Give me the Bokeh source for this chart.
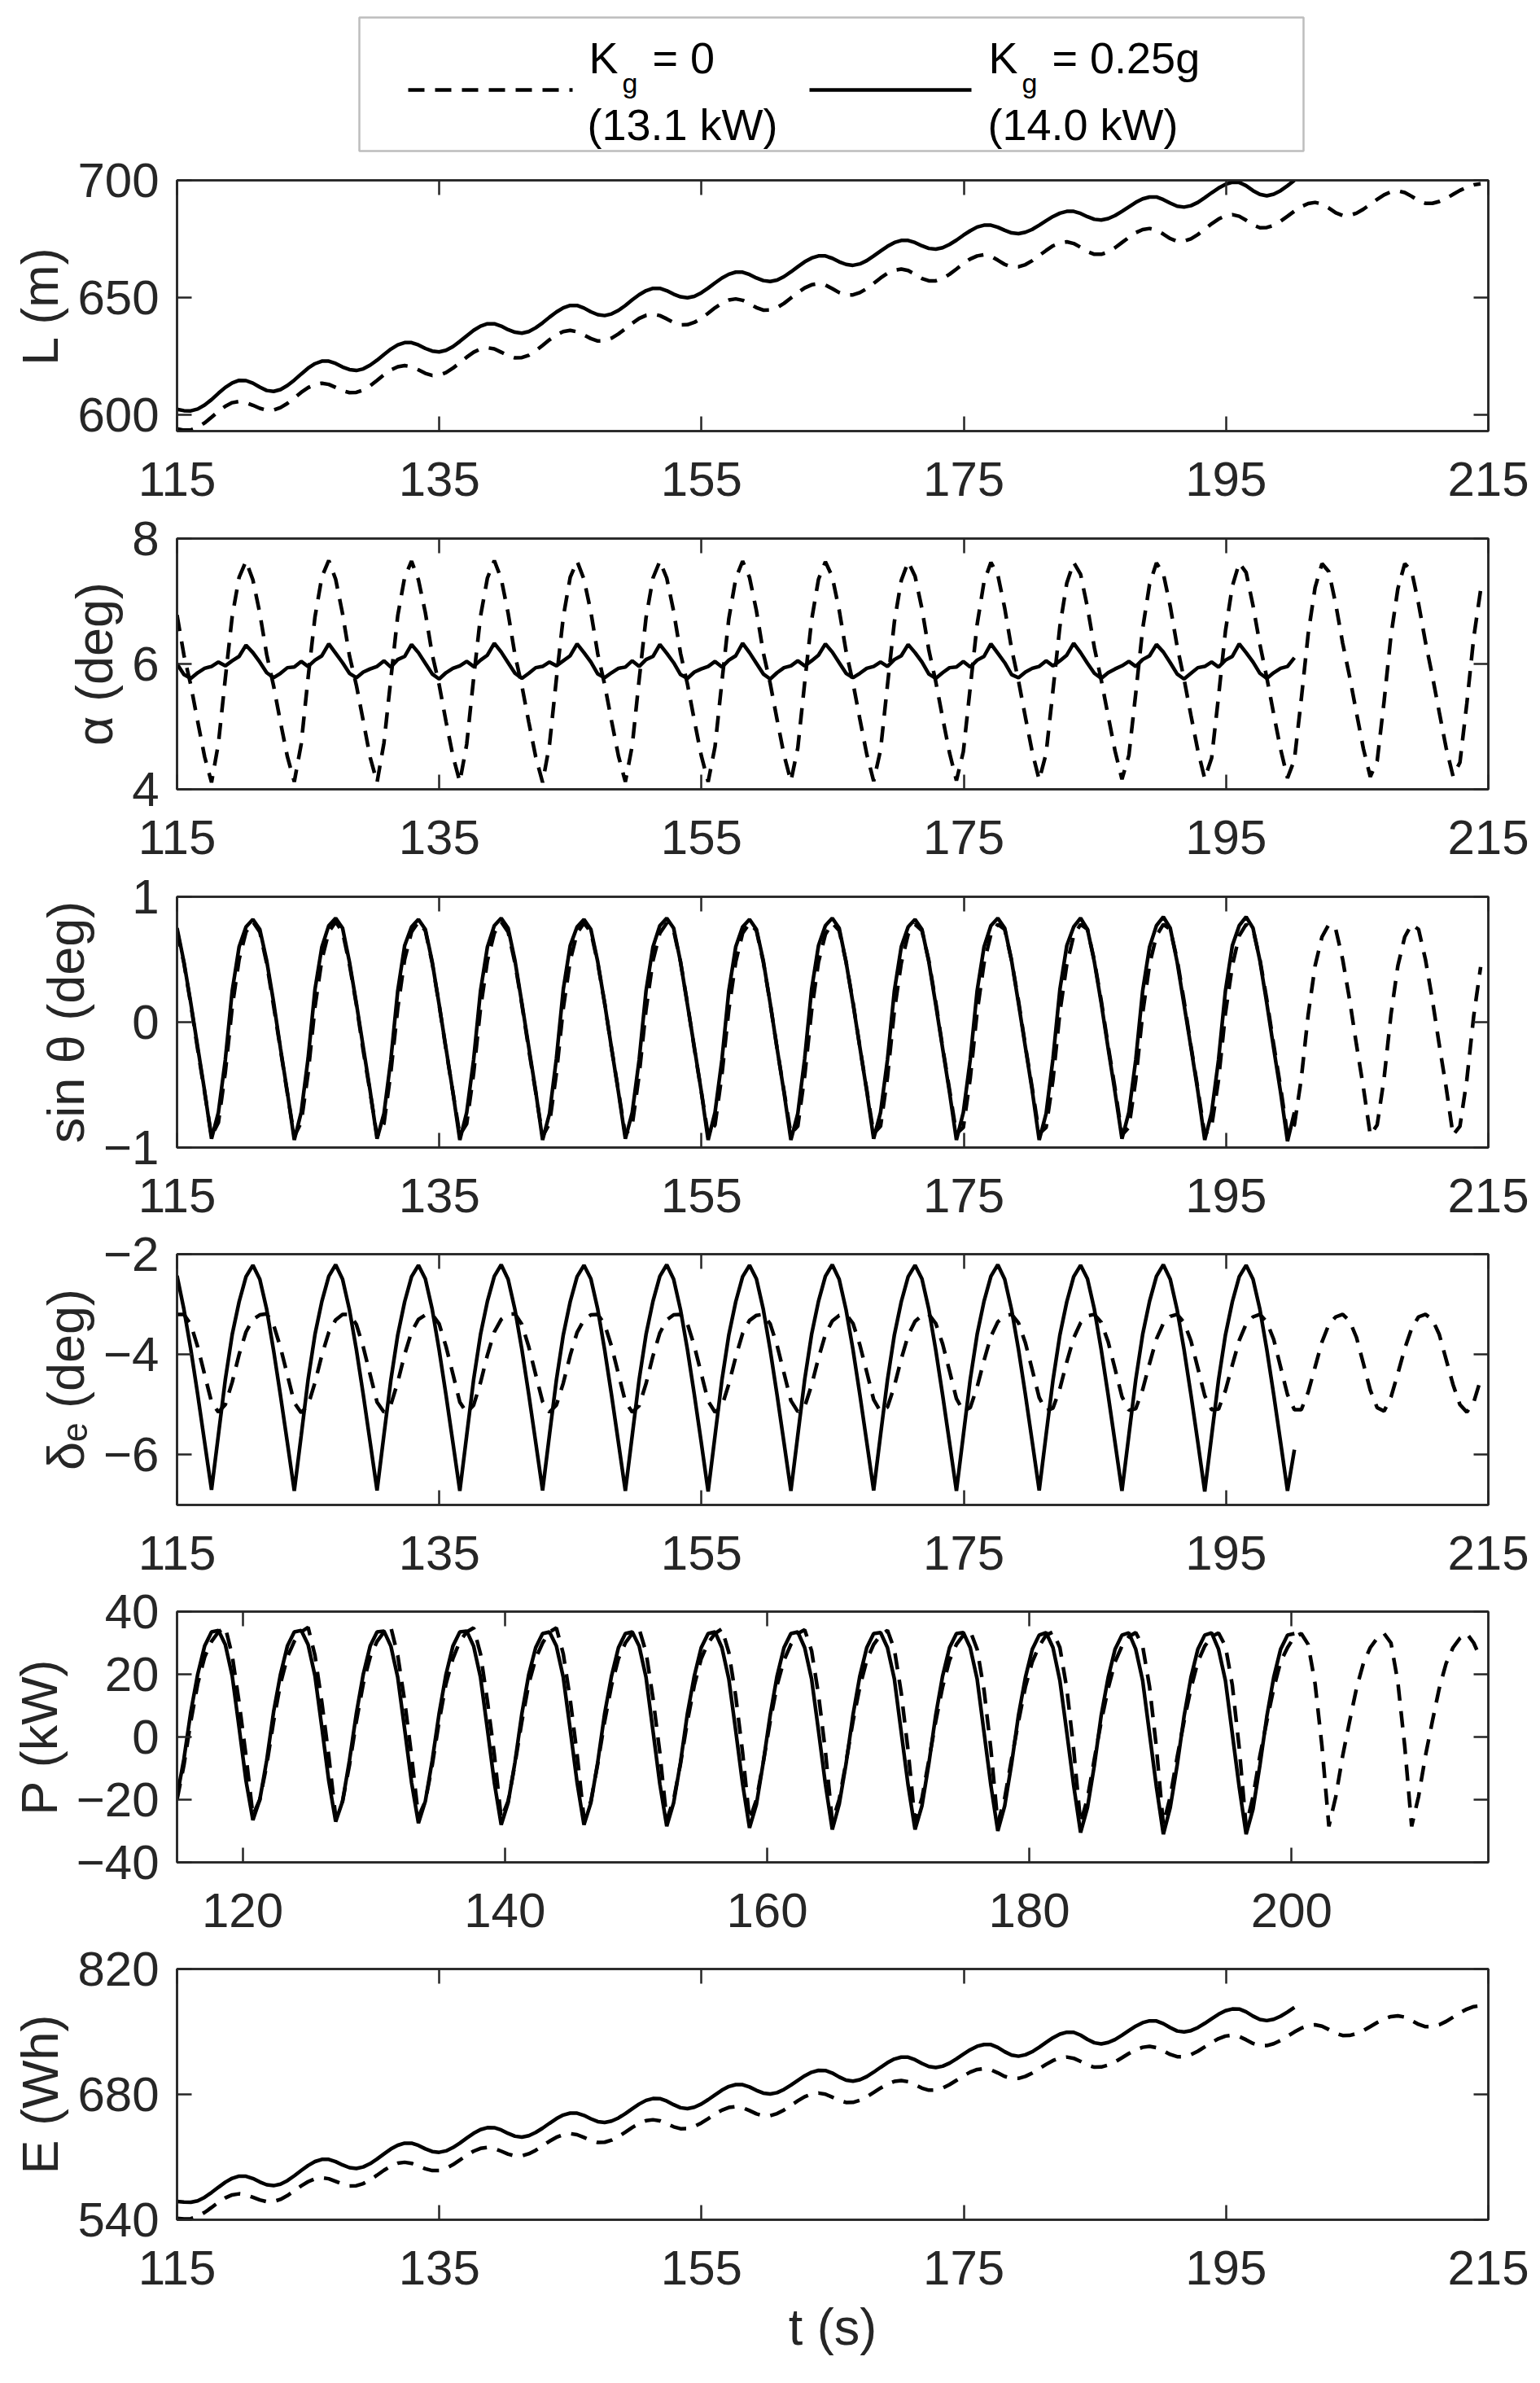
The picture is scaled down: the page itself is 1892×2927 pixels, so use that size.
from bokeh.plotting import figure
from bokeh.models import Range1d, LinearAxis, FixedTicker, CustomJSTickFormatter, BoxAnnotation
from bokeh.layouts import column
from bokeh.embed import file_html
from bokeh.resources import INLINE
from bokeh.core.properties import value

# ---------------------------------------------------------------- data
# Values, one reading every TIME_STEP seconds
# (12 readings per ~6.31 s oscillation cycle), starting at TIME_START.
TIME_START = 115.0
TIME_STEP = 0.526

X_TICKS = [115, 135, 155, 175, 195, 215]
X_TICKS_P = [120, 140, 160, 180, 200]

# ---- L (m)
L_KG0 = [
    594.2, 593.6, 593.7, 594.8, 596.7, 599.1, 601.6, 603.8, 605.3, 605.8, 605.3, 604.2,
    602.9, 602.1, 602.2, 603.2, 605.0, 607.3, 609.7, 611.7, 613.1, 613.6, 613.1, 611.8,
    610.4, 609.6, 609.7, 610.7, 612.5, 614.8, 617.2, 619.2, 620.6, 621.1, 620.6, 619.3,
    617.8, 616.9, 617.0, 618.1, 620.0, 622.3, 624.7, 626.8, 628.2, 628.7, 628.2, 626.8,
    625.3, 624.4, 624.5, 625.5, 627.4, 629.7, 632.1, 634.2, 635.6, 636.1, 635.5, 634.1,
    632.6, 631.6, 631.7, 632.8, 634.6, 636.8, 639.1, 641.2, 642.5, 643.0, 642.4, 641.0,
    639.4, 638.4, 638.5, 639.5, 641.2, 643.4, 645.7, 647.7, 649.0, 649.5, 648.9, 647.4,
    645.8, 644.7, 644.8, 645.8, 647.6, 649.9, 652.2, 654.2, 655.5, 656.0, 655.4, 653.9,
    652.2, 651.1, 651.2, 652.2, 653.9, 656.1, 658.4, 660.4, 661.7, 662.2, 661.6, 660.0,
    658.2, 657.2, 657.2, 658.2, 660.0, 662.2, 664.5, 666.5, 667.8, 668.3, 667.7, 666.0,
    664.2, 663.1, 663.2, 664.1, 665.8, 668.0, 670.1, 672.1, 673.3, 673.8, 673.1, 671.5,
    669.6, 668.5, 668.5, 669.5, 671.3, 673.5, 675.7, 677.7, 679.0, 679.5, 678.8, 677.1,
    675.2, 674.0, 674.1, 675.1, 676.9, 679.2, 681.5, 683.5, 684.9, 685.4, 684.7, 683.0,
    681.0, 679.8, 679.9, 680.8, 682.6, 684.7, 686.9, 688.8, 690.1, 690.6, 689.9, 688.2,
    686.2, 685.0, 685.1, 686.0, 687.7, 689.8, 691.9, 693.8, 695.1, 695.5, 694.8, 693.2,
    691.3, 690.2, 690.2, 691.0, 692.3, 694.0, 695.7, 697.1, 698.1, 698.5,
]
L_KG025 = [
    602.5, 601.9, 601.8, 602.6, 604.3, 606.6, 609.3, 611.8, 613.7, 614.8, 614.7, 613.6,
    611.9, 610.5, 610.1, 610.9, 612.6, 614.9, 617.5, 620.0, 621.9, 623.0, 623.0, 622.0,
    620.5, 619.4, 619.0, 619.7, 621.3, 623.4, 625.8, 628.1, 629.9, 630.9, 630.9, 629.9,
    628.4, 627.3, 626.9, 627.6, 629.2, 631.4, 633.8, 636.1, 637.9, 638.9, 638.9, 637.9,
    636.4, 635.3, 634.9, 635.6, 637.2, 639.3, 641.7, 643.9, 645.7, 646.7, 646.7, 645.6,
    644.0, 642.8, 642.4, 643.1, 644.6, 646.7, 649.1, 651.3, 653.0, 654.0, 654.0, 653.0,
    651.5, 650.4, 650.0, 650.6, 652.1, 654.1, 656.3, 658.4, 660.0, 660.9, 660.9, 659.9,
    658.4, 657.3, 656.9, 657.5, 659.0, 661.0, 663.2, 665.3, 666.9, 667.8, 667.8, 666.8,
    665.3, 664.2, 663.8, 664.4, 665.8, 667.8, 669.9, 671.9, 673.5, 674.4, 674.4, 673.5,
    672.1, 671.0, 670.7, 671.3, 672.7, 674.5, 676.6, 678.5, 680.1, 680.9, 680.9, 680.0,
    678.7, 677.6, 677.3, 677.9, 679.1, 680.9, 682.8, 684.6, 686.0, 686.8, 686.8, 685.9,
    684.5, 683.4, 683.1, 683.7, 685.0, 686.8, 688.7, 690.6, 692.1, 692.9, 692.9, 691.8,
    690.3, 689.0, 688.6, 689.2, 690.6, 692.6, 694.7, 696.7, 698.3, 699.2, 699.1, 697.7,
    695.6, 694.0, 693.4, 694.1, 695.6, 697.7, 700.0,
]
L_TICKS = [600, 650, 700]

# ---- alpha (deg)
ALPHA_KG0 = [
    6.78, 6.14, 5.66, 5.08, 4.52, 4.11, 4.73, 5.77, 6.76, 7.38, 7.64, 7.34,
    6.81, 6.15, 5.65, 5.07, 4.52, 4.12, 4.72, 5.78, 6.75, 7.39, 7.65, 7.35,
    6.80, 6.13, 5.66, 5.09, 4.51, 4.11, 4.74, 5.76, 6.77, 7.38, 7.64, 7.34,
    6.82, 6.15, 5.67, 5.08, 4.53, 4.12, 4.72, 5.77, 6.76, 7.37, 7.65, 7.36,
    6.81, 6.14, 5.65, 5.07, 4.52, 4.11, 4.71, 5.76, 6.75, 7.38, 7.64, 7.35,
    6.83, 6.16, 5.67, 5.09, 4.53, 4.12, 4.70, 5.75, 6.74, 7.37, 7.64, 7.37,
    6.84, 6.17, 5.68, 5.10, 4.54, 4.12, 4.68, 5.72, 6.72, 7.36, 7.64, 7.38,
    6.85, 6.18, 5.69, 5.11, 4.55, 4.13, 4.66, 5.70, 6.70, 7.35, 7.63, 7.39,
    6.86, 6.20, 5.70, 5.12, 4.56, 4.13, 4.63, 5.66, 6.67, 7.33, 7.63, 7.40,
    6.88, 6.22, 5.72, 5.14, 4.58, 4.14, 4.60, 5.62, 6.63, 7.31, 7.62, 7.42,
    6.89, 6.24, 5.73, 5.15, 4.59, 4.15, 4.57, 5.58, 6.60, 7.29, 7.62, 7.43,
    6.90, 6.26, 5.74, 5.17, 4.61, 4.16, 4.54, 5.53, 6.56, 7.27, 7.61, 7.44,
    6.92, 6.28, 5.76, 5.18, 4.62, 4.17, 4.50, 5.48, 6.52, 7.24, 7.61, 7.46,
    6.93, 6.31, 5.78, 5.20, 4.64, 4.18, 4.47, 5.44, 6.48, 7.22, 7.60, 7.47,
    6.95, 6.33, 5.80, 5.22, 4.65, 4.20, 4.45, 5.40, 6.45, 7.20, 7.60, 7.48,
    6.96, 6.35, 5.81, 5.23, 4.66, 4.21, 4.43, 5.37, 6.42, 7.18,
]
ALPHA_KG025 = [
    6.00, 5.83, 5.77, 5.86, 5.93, 5.96, 6.03, 5.97, 6.05, 6.12, 6.30, 6.18,
    6.03, 5.86, 5.78, 5.85, 5.94, 5.95, 6.04, 5.96, 6.06, 6.13, 6.32, 6.17,
    6.02, 5.85, 5.78, 5.87, 5.92, 5.96, 6.05, 5.95, 6.07, 6.12, 6.31, 6.18,
    6.01, 5.84, 5.76, 5.86, 5.93, 5.97, 6.04, 5.96, 6.06, 6.14, 6.33, 6.19,
    6.02, 5.85, 5.77, 5.85, 5.94, 5.96, 6.03, 5.97, 6.05, 6.13, 6.32, 6.18,
    6.03, 5.84, 5.78, 5.86, 5.93, 5.95, 6.05, 5.96, 6.07, 6.12, 6.31, 6.17,
    6.02, 5.83, 5.77, 5.87, 5.92, 5.96, 6.04, 5.95, 6.06, 6.13, 6.33, 6.18,
    6.01, 5.84, 5.76, 5.86, 5.94, 5.97, 6.05, 5.97, 6.05, 6.14, 6.32, 6.19,
    6.02, 5.85, 5.78, 5.85, 5.93, 5.96, 6.03, 5.96, 6.07, 6.13, 6.31, 6.18,
    6.03, 5.84, 5.77, 5.86, 5.94, 5.95, 6.04, 5.95, 6.06, 6.12, 6.32, 6.17,
    6.02, 5.83, 5.78, 5.87, 5.93, 5.96, 6.05, 5.97, 6.05, 6.14, 6.33, 6.18,
    6.01, 5.85, 5.77, 5.86, 5.92, 5.97, 6.04, 5.96, 6.07, 6.13, 6.31, 6.19,
    6.02, 5.84, 5.76, 5.85, 5.94, 5.96, 6.03, 5.95, 6.06, 6.12, 6.32, 6.18,
    6.03, 5.85, 5.77, 5.86, 5.93, 5.96, 6.10,
]
ALPHA_TICKS = [4, 6, 8]

# ---- sin(theta)
SIN_KG0 = [
    0.73, 0.47, 0.14, -0.22, -0.56, -0.91, -0.80, -0.40, 0.12, 0.50, 0.72, 0.80,
    0.72, 0.47, 0.13, -0.22, -0.57, -0.91, -0.80, -0.41, 0.12, 0.50, 0.72, 0.80,
    0.72, 0.46, 0.14, -0.23, -0.56, -0.91, -0.81, -0.40, 0.11, 0.50, 0.72, 0.80,
    0.73, 0.47, 0.14, -0.22, -0.56, -0.90, -0.81, -0.41, 0.11, 0.49, 0.71, 0.80,
    0.72, 0.47, 0.14, -0.22, -0.56, -0.91, -0.81, -0.41, 0.11, 0.49, 0.71, 0.79,
    0.72, 0.47, 0.15, -0.21, -0.55, -0.90, -0.82, -0.42, 0.10, 0.49, 0.71, 0.79,
    0.73, 0.48, 0.15, -0.21, -0.55, -0.90, -0.82, -0.42, 0.10, 0.48, 0.71, 0.79,
    0.73, 0.48, 0.15, -0.21, -0.55, -0.89, -0.83, -0.43, 0.09, 0.48, 0.70, 0.79,
    0.73, 0.48, 0.16, -0.20, -0.54, -0.89, -0.83, -0.44, 0.09, 0.47, 0.70, 0.78,
    0.73, 0.49, 0.16, -0.20, -0.54, -0.89, -0.84, -0.45, 0.08, 0.47, 0.70, 0.78,
    0.74, 0.49, 0.17, -0.19, -0.53, -0.89, -0.84, -0.46, 0.08, 0.46, 0.69, 0.78,
    0.74, 0.49, 0.17, -0.19, -0.53, -0.90, -0.84, -0.46, 0.07, 0.46, 0.69, 0.78,
    0.74, 0.50, 0.17, -0.19, -0.53, -0.90, -0.83, -0.46, 0.07, 0.45, 0.69, 0.78,
    0.74, 0.50, 0.18, -0.18, -0.52, -0.90, -0.82, -0.45, 0.06, 0.45, 0.68, 0.78,
    0.74, 0.50, 0.18, -0.18, -0.52, -0.90, -0.82, -0.45, 0.06, 0.45, 0.68, 0.78,
    0.74, 0.50, 0.18, -0.18, -0.52, -0.90, -0.83, -0.46, 0.05, 0.44,
]
SIN_KG025 = [
    0.75, 0.48, 0.15, -0.20, -0.55, -0.93, -0.72, -0.30, 0.25, 0.60, 0.76, 0.82,
    0.74, 0.49, 0.16, -0.21, -0.56, -0.94, -0.72, -0.29, 0.26, 0.60, 0.77, 0.83,
    0.75, 0.48, 0.15, -0.20, -0.55, -0.93, -0.73, -0.30, 0.25, 0.61, 0.76, 0.82,
    0.74, 0.48, 0.14, -0.21, -0.56, -0.94, -0.72, -0.30, 0.25, 0.60, 0.77, 0.83,
    0.75, 0.49, 0.15, -0.20, -0.55, -0.94, -0.73, -0.29, 0.26, 0.61, 0.76, 0.82,
    0.74, 0.48, 0.15, -0.21, -0.56, -0.93, -0.72, -0.30, 0.25, 0.60, 0.77, 0.83,
    0.75, 0.48, 0.14, -0.20, -0.55, -0.94, -0.72, -0.30, 0.25, 0.60, 0.76, 0.82,
    0.74, 0.49, 0.15, -0.21, -0.56, -0.94, -0.73, -0.29, 0.26, 0.61, 0.77, 0.83,
    0.75, 0.48, 0.15, -0.20, -0.55, -0.93, -0.72, -0.30, 0.25, 0.60, 0.76, 0.82,
    0.74, 0.48, 0.14, -0.21, -0.56, -0.94, -0.72, -0.30, 0.25, 0.60, 0.77, 0.83,
    0.75, 0.49, 0.15, -0.20, -0.55, -0.94, -0.73, -0.29, 0.26, 0.61, 0.76, 0.83,
    0.74, 0.48, 0.15, -0.21, -0.56, -0.93, -0.72, -0.30, 0.25, 0.60, 0.77, 0.84,
    0.75, 0.48, 0.14, -0.20, -0.55, -0.94, -0.72, -0.30, 0.25, 0.61, 0.77, 0.84,
    0.75, 0.49, 0.15, -0.21, -0.56, -0.95, -0.72,
]
SIN_TICKS = [-1, 0, 1]

# ---- delta_e (deg)
DELTA_KG0 = [
    -3.20, -3.20, -3.40, -3.85, -4.40, -4.95, -5.15, -5.00, -4.55, -4.00, -3.55, -3.30,
    -3.21, -3.19, -3.41, -3.86, -4.41, -4.96, -5.16, -5.01, -4.56, -4.01, -3.56, -3.31,
    -3.20, -3.20, -3.40, -3.85, -4.40, -4.95, -5.15, -5.00, -4.55, -4.00, -3.55, -3.30,
    -3.21, -3.20, -3.39, -3.84, -4.39, -4.95, -5.16, -5.01, -4.56, -4.01, -3.55, -3.30,
    -3.20, -3.19, -3.40, -3.85, -4.40, -4.94, -5.15, -5.01, -4.57, -4.02, -3.56, -3.31,
    -3.21, -3.20, -3.40, -3.84, -4.39, -4.94, -5.15, -5.02, -4.58, -4.03, -3.57, -3.31,
    -3.21, -3.20, -3.39, -3.83, -4.38, -4.93, -5.15, -5.03, -4.59, -4.05, -3.58, -3.32,
    -3.22, -3.20, -3.39, -3.82, -4.37, -4.92, -5.14, -5.04, -4.61, -4.07, -3.60, -3.33,
    -3.22, -3.20, -3.38, -3.81, -4.35, -4.90, -5.14, -5.05, -4.63, -4.09, -3.62, -3.34,
    -3.22, -3.20, -3.38, -3.79, -4.33, -4.88, -5.13, -5.06, -4.65, -4.12, -3.64, -3.35,
    -3.23, -3.20, -3.37, -3.77, -4.31, -4.86, -5.12, -5.07, -4.68, -4.15, -3.67, -3.37,
    -3.23, -3.20, -3.36, -3.75, -4.29, -4.84, -5.11, -5.08, -4.70, -4.18, -3.69, -3.38,
    -3.24, -3.20, -3.36, -3.73, -4.27, -4.82, -5.10, -5.09, -4.72, -4.21, -3.72, -3.39,
    -3.25, -3.20, -3.35, -3.70, -4.25, -4.80, -5.10, -5.10, -4.75, -4.25, -3.75, -3.40,
    -3.25, -3.20, -3.33, -3.66, -4.18, -4.71, -5.06, -5.13, -4.85, -4.38, -3.88, -3.48,
    -3.25, -3.20, -3.30, -3.60, -4.10, -4.60, -5.00, -5.15, -4.95, -4.50,
]
DELTA_KG025 = [
    -2.43, -3.10, -3.90, -4.80, -5.75, -6.70, -5.60, -4.50, -3.60, -2.95, -2.45, -2.22,
    -2.50, -3.10, -3.92, -4.82, -5.76, -6.72, -5.62, -4.50, -3.60, -2.94, -2.44, -2.21,
    -2.50, -3.11, -3.90, -4.80, -5.75, -6.71, -5.60, -4.51, -3.61, -2.95, -2.45, -2.22,
    -2.49, -3.10, -3.91, -4.81, -5.76, -6.72, -5.61, -4.50, -3.60, -2.94, -2.44, -2.21,
    -2.50, -3.11, -3.90, -4.80, -5.75, -6.71, -5.60, -4.51, -3.61, -2.95, -2.45, -2.22,
    -2.49, -3.10, -3.91, -4.81, -5.76, -6.72, -5.61, -4.50, -3.60, -2.94, -2.44, -2.21,
    -2.50, -3.11, -3.90, -4.80, -5.75, -6.73, -5.62, -4.51, -3.61, -2.95, -2.45, -2.22,
    -2.49, -3.10, -3.91, -4.81, -5.76, -6.72, -5.61, -4.50, -3.60, -2.94, -2.44, -2.21,
    -2.50, -3.11, -3.90, -4.80, -5.75, -6.71, -5.60, -4.51, -3.61, -2.95, -2.45, -2.22,
    -2.49, -3.10, -3.91, -4.81, -5.76, -6.72, -5.61, -4.50, -3.60, -2.94, -2.44, -2.21,
    -2.50, -3.11, -3.90, -4.80, -5.75, -6.71, -5.60, -4.51, -3.61, -2.95, -2.45, -2.22,
    -2.49, -3.10, -3.91, -4.81, -5.76, -6.72, -5.61, -4.50, -3.60, -2.94, -2.44, -2.21,
    -2.50, -3.11, -3.90, -4.80, -5.75, -6.73, -5.62, -4.51, -3.61, -2.95, -2.45, -2.22,
    -2.50, -3.10, -3.90, -4.80, -5.75, -6.72, -5.90,
]
DELTA_TICKS = [-6, -4, -2]

# ---- P (kW)
P_KG0 = [
    -20.0, -9.0, 5.0, 17.0, 25.5, 30.5, 33.5, 35.0, 26.0, 11.0, -6.0, -25.0,
    -20.0, -9.0, 5.0, 17.0, 25.5, 30.5, 33.5, 35.0, 26.0, 11.0, -6.0, -25.5,
    -20.5, -9.0, 5.0, 17.0, 25.5, 30.5, 33.5, 35.0, 26.0, 11.5, -6.0, -25.5,
    -20.5, -9.0, 5.0, 17.0, 25.0, 30.5, 33.5, 34.8, 26.5, 11.5, -5.5, -26.0,
    -20.5, -8.5, 5.0, 17.0, 25.0, 30.0, 33.5, 34.8, 26.5, 12.0, -5.5, -26.0,
    -20.5, -8.5, 5.0, 16.5, 25.0, 30.0, 33.0, 34.5, 27.0, 12.5, -5.0, -26.5,
    -20.0, -8.5, 5.0, 16.5, 25.0, 30.0, 33.0, 34.5, 27.0, 13.0, -5.0, -26.5,
    -20.0, -8.0, 5.0, 16.5, 24.5, 29.5, 33.0, 34.2, 27.5, 13.5, -4.5, -27.0,
    -20.0, -8.0, 5.0, 16.0, 24.5, 29.5, 32.5, 34.0, 28.0, 14.0, -4.5, -27.0,
    -19.5, -7.5, 5.0, 16.0, 24.5, 29.5, 32.5, 33.8, 28.0, 15.0, -4.0, -27.5,
    -19.5, -7.0, 5.0, 16.0, 24.0, 29.0, 32.5, 33.5, 28.5, 15.5, -4.0, -27.5,
    -19.5, -7.0, 5.0, 15.5, 24.0, 29.0, 32.0, 33.3, 29.0, 16.0, -3.5, -28.0,
    -19.0, -6.5, 5.0, 15.5, 24.0, 29.0, 32.0, 33.2, 29.0, 16.5, -3.5, -28.5,
    -19.0, -6.0, 5.0, 15.5, 24.0, 28.5, 32.0, 33.0, 29.5, 17.0, -3.0, -28.5,
    -19.0, -6.0, 5.0, 15.5, 23.5, 28.5, 31.5, 33.0, 30.0, 17.5, -3.0, -28.5,
    -19.0, -6.0, 5.0, 15.5, 23.5, 28.5, 31.5, 33.0, 30.0, 25.0,
]
P_KG025 = [
    -19.0, -7.0, 8.0, 20.0, 29.0, 33.5, 34.0, 29.5, 19.5, 3.0, -14.0, -26.5,
    -20.0, -7.5, 8.0, 20.0, 29.0, 33.5, 34.0, 29.5, 19.5, 3.0, -14.0, -27.0,
    -20.5, -7.5, 7.5, 20.0, 29.0, 33.5, 33.8, 29.0, 19.0, 2.5, -14.5, -27.5,
    -20.5, -7.5, 7.5, 20.0, 29.0, 33.5, 33.8, 29.0, 19.0, 2.5, -14.5, -28.0,
    -21.0, -8.0, 7.5, 20.0, 28.5, 33.0, 33.5, 29.0, 19.0, 2.5, -14.5, -28.0,
    -21.0, -8.0, 7.5, 19.5, 28.5, 33.0, 33.5, 29.0, 19.0, 2.0, -15.0, -28.5,
    -21.0, -8.0, 7.5, 19.5, 28.5, 33.0, 33.5, 28.5, 18.5, 2.0, -15.0, -29.0,
    -21.5, -8.0, 7.0, 19.5, 28.5, 33.0, 33.5, 28.5, 18.5, 2.0, -15.0, -29.5,
    -21.5, -8.5, 7.0, 19.5, 28.5, 33.0, 33.3, 28.5, 18.5, 1.5, -15.5, -29.5,
    -22.0, -8.5, 7.0, 19.5, 28.5, 33.0, 33.3, 28.5, 18.5, 1.5, -15.5, -30.0,
    -22.0, -8.5, 7.0, 19.0, 28.0, 32.5, 33.3, 28.5, 18.0, 1.5, -15.5, -30.5,
    -22.5, -9.0, 7.0, 19.0, 28.0, 32.5, 33.2, 28.0, 18.0, 1.0, -16.0, -31.0,
    -22.5, -9.0, 6.5, 19.0, 28.0, 32.5, 33.2, 28.0, 18.0, 1.0, -16.0, -31.0,
    -23.0, -9.0, 6.5, 19.0, 28.0, 32.5, 33.0,
]
P_TICKS = [-40, -20, 0, 20, 40]

# ---- E (Wh)
E_KG0 = [
    541.5, 540.9, 541.2, 543.8, 548.2, 553.7, 559.5, 564.4, 567.8, 569.0, 567.9, 565.1,
    562.1, 560.2, 560.4, 562.8, 567.0, 572.3, 577.8, 582.5, 585.8, 586.9, 585.8, 582.9,
    579.8, 577.8, 578.0, 580.4, 584.6, 589.8, 595.2, 599.9, 603.1, 604.2, 603.0, 600.1,
    596.9, 594.9, 595.1, 597.4, 601.5, 606.7, 612.0, 616.6, 619.7, 620.8, 619.6, 616.6,
    613.3, 611.3, 611.4, 613.7, 617.6, 622.6, 627.7, 632.1, 635.1, 636.2, 635.0, 631.9,
    628.5, 626.4, 626.6, 628.9, 632.9, 637.9, 643.1, 647.6, 650.6, 651.7, 650.5, 647.3,
    643.8, 641.7, 641.8, 644.1, 648.0, 652.9, 658.0, 662.4, 665.4, 666.4, 665.1, 661.9,
    658.3, 656.1, 656.3, 658.6, 662.6, 667.7, 672.8, 677.4, 680.4, 681.5, 680.2, 676.9,
    673.2, 671.0, 671.1, 673.4, 677.2, 682.1, 687.1, 691.5, 694.5, 695.5, 694.2, 690.8,
    687.0, 684.7, 684.9, 687.1, 690.9, 695.7, 700.6, 704.9, 707.8, 708.8, 707.4, 704.0,
    700.1, 697.8, 697.9, 700.1, 703.9, 708.6, 713.5, 717.8, 720.7, 721.7, 720.3, 716.8,
    712.8, 710.4, 710.6, 712.7, 716.3, 720.9, 725.7, 729.8, 732.6, 733.6, 732.2, 728.6,
    724.6, 722.1, 722.2, 724.4, 728.2, 733.0, 737.9, 742.2, 745.1, 746.1, 744.6, 741.0,
    736.9, 734.3, 734.5, 736.6, 740.3, 744.9, 749.7, 753.9, 756.7, 757.7, 756.2, 752.4,
    748.3, 745.7, 745.8, 747.8, 751.3, 755.7, 760.2, 764.2, 766.9, 767.8, 766.3, 762.4,
    758.2, 755.6, 755.7, 757.8, 761.5, 766.2, 771.0, 775.2, 778.0, 779.0,
]
E_KG025 = [
    560.5, 559.7, 559.5, 561.2, 565.1, 570.4, 576.3, 581.9, 586.3, 588.7, 588.6, 586.1,
    582.2, 579.1, 578.1, 579.8, 583.7, 589.1, 595.0, 600.6, 605.0, 607.4, 607.4, 604.9,
    601.2, 598.2, 597.3, 599.0, 602.7, 607.8, 613.5, 619.0, 623.2, 625.5, 625.5, 623.0,
    619.2, 616.2, 615.3, 616.9, 620.6, 625.6, 631.2, 636.5, 640.7, 642.9, 642.8, 640.3,
    636.4, 633.3, 632.3, 633.9, 637.5, 642.3, 647.7, 652.9, 657.0, 659.1, 659.0, 656.5,
    652.7, 649.6, 648.6, 650.2, 653.7, 658.6, 664.0, 669.2, 673.3, 675.4, 675.3, 672.6,
    668.5, 665.1, 664.1, 665.7, 669.2, 674.1, 679.5, 684.7, 688.8, 690.9, 690.8, 688.3,
    684.5, 681.4, 680.4, 681.9, 685.5, 690.3, 695.6, 700.7, 704.7, 706.8, 706.7, 703.8,
    699.4, 695.9, 694.8, 696.4, 699.9, 704.8, 710.2, 715.4, 719.5, 721.6, 721.5, 718.7,
    714.5, 711.1, 710.0, 711.5, 714.9, 719.6, 724.8, 729.8, 733.7, 735.7, 735.6, 732.4,
    727.6, 723.8, 722.6, 724.2, 727.7, 732.6, 738.0, 743.2, 747.3, 749.4, 749.3, 746.1,
    741.4, 737.6, 736.4, 737.9, 741.3, 746.0, 751.2, 756.2, 760.1, 762.1, 762.0, 759.0,
    754.5, 750.8, 749.7, 751.2, 754.6, 759.3, 764.5, 769.5, 773.4, 775.4, 775.3, 772.1,
    767.4, 763.6, 762.4, 763.9, 767.3, 772.0, 777.2,
]
E_TICKS = [540, 680, 820]

# ---------------------------------------------------------------- style
INK = "#262626"
FONT = "Liberation Sans"
AX_W = 2.5
LINE_W = 4.5
DASH = "20 13"
FRAME_W, FRAME_H = 1611, 308
BORDER_L, BORDER_R = 217, 56
EMPTY = CustomJSTickFormatter(code="return ''")


def times(vals):
    return [round(TIME_START + TIME_STEP * i, 3) for i in range(len(vals))]


def style_axis(ax):
    ax.axis_line_color = INK
    ax.axis_line_width = AX_W
    ax.major_tick_line_color = INK
    ax.major_tick_line_width = AX_W
    ax.major_tick_in = 18
    ax.major_tick_out = 0
    ax.minor_tick_line_color = None
    ax.major_label_text_font = FONT
    ax.major_label_text_font_size = "60px"
    ax.major_label_text_color = INK
    ax.axis_label_text_font = FONT
    ax.axis_label_text_font_size = "63px"
    ax.axis_label_text_font_style = "normal"
    ax.axis_label_text_color = INK


def panel(ylabel, yr, yticks, xticks, dashed, solid, border_t, border_b, xlabel=None):
    p = figure(frame_width=FRAME_W, frame_height=FRAME_H,
               x_range=Range1d(115, 215), y_range=Range1d(*yr),
               min_border_left=BORDER_L, min_border_right=BORDER_R,
               min_border_top=border_t, min_border_bottom=border_b,
               output_backend="svg", toolbar_location=None)
    p.xgrid.visible = False
    p.ygrid.visible = False
    p.outline_line_color = INK
    p.outline_line_width = AX_W
    p.background_fill_color = "white"
    p.border_fill_color = "white"
    xt = FixedTicker(ticks=xticks, minor_ticks=[])
    yt = FixedTicker(ticks=yticks, minor_ticks=[])
    xa = p.below[0]
    ya = p.left[0]
    xa.ticker = xt
    ya.ticker = yt
    style_axis(xa)
    style_axis(ya)
    xa.major_label_standoff = 38
    ya.major_label_standoff = 22
    ya.axis_label = ylabel
    ya.axis_label_standoff = 8
    if xlabel:
        xa.axis_label = xlabel
        xa.axis_label_standoff = 14
    for side, tk in (("above", xt), ("right", yt)):
        ax = LinearAxis(ticker=tk, formatter=EMPTY)
        style_axis(ax)
        ax.major_label_text_font_size = "1px"
        ax.major_label_standoff = 0
        p.add_layout(ax, side)
    p.line(times(dashed), dashed, line_color="black", line_width=LINE_W, line_dash=DASH)
    p.line(times(solid), solid, line_color="black", line_width=LINE_W)
    return p


# ---------------------------------------------------------------- legend
# legend canvas: x = page x - 217, y = 187 - page y
lg = figure(frame_width=FRAME_W, frame_height=187, x_range=Range1d(0, FRAME_W), y_range=Range1d(0, 187),
            min_border_left=BORDER_L, min_border_right=BORDER_R, min_border_top=0, min_border_bottom=0,
            x_axis_type=None, y_axis_type=None, output_backend="svg", toolbar_location=None)
lg.xgrid.visible = False
lg.ygrid.visible = False
lg.outline_line_color = None
lg.background_fill_color = "white"
lg.border_fill_color = "white"
lg.add_layout(BoxAnnotation(left=224, right=1384, bottom=2, top=166, fill_color=None,
                            line_color=INK, line_width=AX_W))
lg.line([284, 486], [77, 77], line_color="black", line_width=LINE_W, line_dash=DASH)
lg.line([777, 976], [77, 77], line_color="black", line_width=LINE_W)
big = dict(text_font=value(FONT), text_font_size="54px", text_color="black",
           text_baseline="alphabetic", text_align="left")
lg.text(x=[506, 997], y=[117, 117], text=["K", "K"], **big)
lg.text(x=[584, 1075], y=[117, 117], text=["= 0", "= 0.25g"], **big)
lg.text(x=[504, 996], y=[35, 35], text=["(13.1 kW)", "(14.0 kW)"], **big)
lg.text(x=[547, 1038], y=[86, 86], text=["g", "g"], text_font=value(FONT), text_font_size="34px",
        text_color="black", text_baseline="alphabetic", text_align="left")

# ---------------------------------------------------------------- panels
p1 = panel("L (m)", (593.2, 700), L_TICKS, X_TICKS, L_KG0, L_KG025, 34, 98)
p2 = panel("α (deg)", (4, 8), ALPHA_TICKS, X_TICKS, ALPHA_KG0, ALPHA_KG025, 34, 98)
p3 = panel("sin θ (deg)", (-1, 1), SIN_TICKS, X_TICKS, SIN_KG0, SIN_KG025, 34, 97)
p4 = panel("δₑ (deg)", (-7, -2), DELTA_TICKS, X_TICKS, DELTA_KG0, DELTA_KG025, 34, 97)
p5 = panel("P (kW)", (-40, 40), P_TICKS, X_TICKS_P, P_KG0, P_KG025, 34, 97)
p6 = panel("E (Wh)", (540, 820), E_TICKS, X_TICKS, E_KG0, E_KG025, 34, 195, xlabel="t (s)")

page = column(lg, p1, p2, p3, p4, p5, p6, spacing=0)
open("out.html", "w").write(file_html(page, INLINE, title="Kite simulation"))
